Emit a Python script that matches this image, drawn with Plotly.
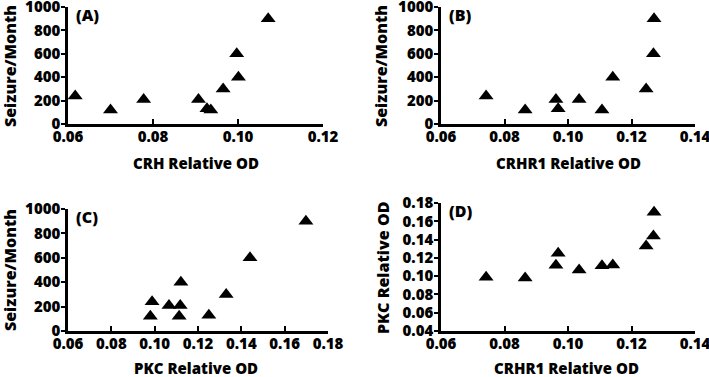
import plotly.graph_objects as go

# Data (10 subjects)
seizures = [240, 120, 210, 130, 210, 120, 400, 300, 600, 900]
crh = [0.0617, 0.0700, 0.0778, 0.0927, 0.0907, 0.0936, 0.1001, 0.0965, 0.0997, 0.1071]
crhr1 = [0.0742, 0.0865, 0.0962, 0.0969, 0.1035, 0.1107, 0.1141, 0.1246, 0.1269, 0.1271]
pkc = [0.0988, 0.0980, 0.1118, 0.1250, 0.1066, 0.1113, 0.1121, 0.1330, 0.1440, 0.1698]

panel_labels = ["(A)", "(B)", "(C)", "(D)"]
x_titles = ["CRH Relative OD", "CRHR1 Relative OD", "PKC Relative OD", "CRHR1 Relative OD"]
y_titles = ["Seizure/Month", "Seizure/Month", "Seizure/Month", "PKC Relative OD"]
x_ticks = [[0.06, 0.08, 0.10, 0.12], [0.06, 0.08, 0.10, 0.12, 0.14],
           [0.06, 0.08, 0.10, 0.12, 0.14, 0.16, 0.18], [0.06, 0.08, 0.10, 0.12, 0.14]]
y_ticks_seiz = [0, 200, 400, 600, 800, 1000]
y_ticks_pkc = [0.04, 0.06, 0.08, 0.10, 0.12, 0.14, 0.16, 0.18]

W, H = 709, 377
FONT = "Open Sans"
WEIGHT = 800

panels = [
    dict(x=crh, y=seizures, xr=[0.06, 0.12], yr=[0, 1000], xt=x_ticks[0], yt=y_ticks_seiz, yfmt="d",
         px=(68, 323), py=(7, 124), xtitle=(196, 163), ytitle=(10, 66)),
    dict(x=crhr1, y=seizures, xr=[0.06, 0.14], yr=[0, 1000], xt=x_ticks[1], yt=y_ticks_seiz, yfmt="d",
         px=(441, 695), py=(7, 124), xtitle=(568, 163), ytitle=(381, 66)),
    dict(x=pkc, y=seizures, xr=[0.06, 0.18], yr=[0, 1000], xt=x_ticks[2], yt=y_ticks_seiz, yfmt="d",
         px=(68, 328), py=(209, 331), xtitle=(196, 368), ytitle=(10, 270)),
    dict(x=crhr1, y=pkc, xr=[0.06, 0.14], yr=[0.04, 0.18], xt=x_ticks[3], yt=y_ticks_pkc, yfmt=".2f",
         px=(441, 695), py=(203, 331), xtitle=(566, 368), ytitle=(383, 268)),
]

fig = go.Figure()
font_tick = dict(family=FONT, size=15, color="black", weight=WEIGHT)
for i, p in enumerate(panels):
    n = "" if i == 0 else str(i + 1)
    xa, ya = "x" + n, "y" + n
    fig.add_trace(go.Scatter(x=p["x"], y=p["y"], mode="markers", xaxis=xa, yaxis=ya,
                             marker=dict(symbol="triangle-up", size=13, color="black"),
                             showlegend=False))
    fig.layout["xaxis" + n] = dict(
        domain=[p["px"][0] / W, p["px"][1] / W], range=p["xr"], anchor=ya, automargin=False,
        tickvals=p["xt"], tickformat=".2f", showgrid=False, zeroline=False,
        showline=True, linecolor="black", linewidth=2.5, ticks="inside", ticklen=5,
        tickwidth=2, tickcolor="black", tickfont=font_tick, ticklabeloverflow="allow",
        ticklabelstandoff=-3)
    fig.layout["yaxis" + n] = dict(
        domain=[1 - p["py"][1] / H, 1 - p["py"][0] / H], range=p["yr"], anchor=xa, automargin=False,
        tickvals=p["yt"], tickformat=p["yfmt"], showgrid=False, zeroline=False,
        showline=True, linecolor="black", linewidth=2.5, ticks="outside", ticklen=4,
        tickwidth=2, tickcolor="black", tickfont=font_tick, ticklabeloverflow="allow",
        ticklabelstandoff=-2)
    fig.add_annotation(text=x_titles[i], x=p["xtitle"][0] / W, y=1 - p["xtitle"][1] / H,
                       xref="paper", yref="paper", showarrow=False, xanchor="center", yanchor="middle",
                       font=dict(family=FONT, size=15, color="black", weight=WEIGHT))
    fig.add_annotation(text=y_titles[i], x=p["ytitle"][0] / W, y=1 - p["ytitle"][1] / H,
                       xref="paper", yref="paper", showarrow=False, xanchor="center", yanchor="middle",
                       textangle=-90,
                       font=dict(family=FONT, size=16, color="black", weight=WEIGHT))
    fig.add_annotation(text=panel_labels[i], x=(p["px"][0] + 6) / W, y=1 - (p["py"][0] + 8) / H,
                       xref="paper", yref="paper", showarrow=False, xanchor="left", yanchor="middle",
                       font=dict(family=FONT, size=16, color="black", weight=WEIGHT))

fig.update_layout(width=W, height=H, margin=dict(l=0, r=0, t=0, b=0),
                  plot_bgcolor="white", paper_bgcolor="white")
fig.write_html("out.html", config={"displayModeBar": False},
               post_script="document.body.style.margin='0';document.body.style.overflow='hidden';")
